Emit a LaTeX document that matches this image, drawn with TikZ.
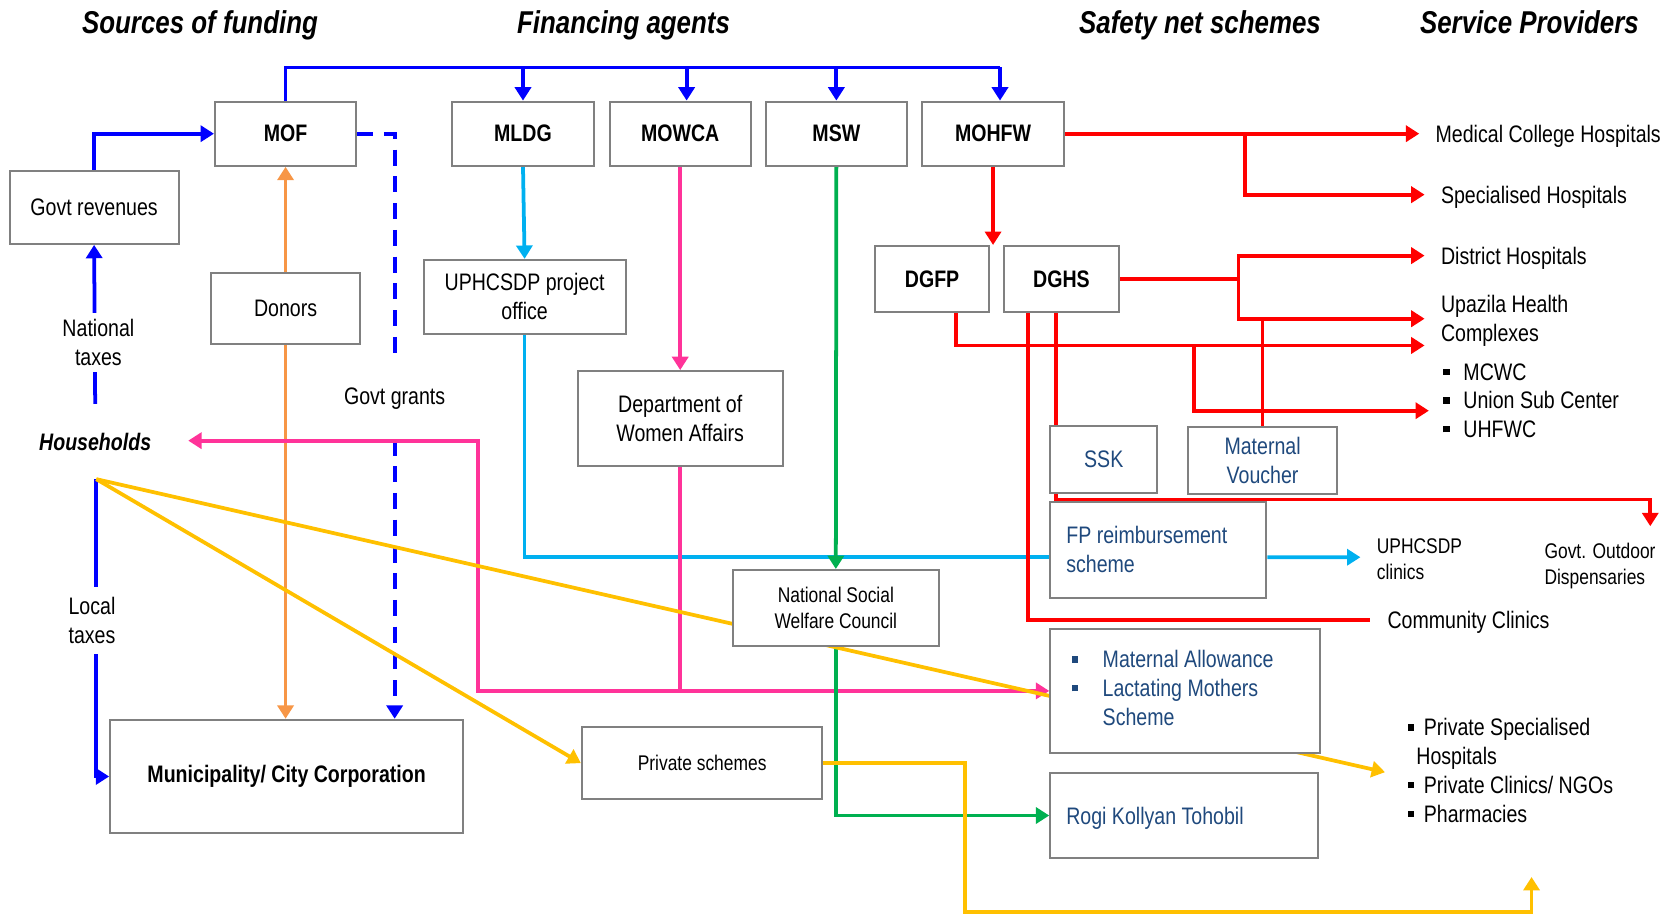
\documentclass[tikz,border=0pt]{standalone}
\usepackage{fontspec}
\setmainfont{Liberation Sans}[FakeStretch=0.82]
\usetikzlibrary{arrows.meta,backgrounds}

\definecolor{boxgray}{RGB}{128,128,128}
\definecolor{schemeblue}{RGB}{31,73,125}
\definecolor{fblue}{RGB}{0,0,255}
\definecolor{forange}{RGB}{247,150,70}
\definecolor{fcyan}{RGB}{0,176,240}
\definecolor{fpink}{RGB}{255,51,153}
\definecolor{fgreen}{RGB}{0,176,80}
\definecolor{fyellow}{RGB}{255,192,0}
\definecolor{fred}{RGB}{255,0,0}

\newcommand{\bodytxt}{\fontsize{12.7}{15.3}\selectfont}
\newcommand{\smalltxt}{\fontsize{11.3}{13.6}\selectfont}
\newcommand{\headtxt}{\fontsize{16.8}{20}\selectfont\bfseries\itshape}
\newcommand{\sqb}{\rule[0.22em]{3.4pt}{3.4pt}}
\newcommand{\natsp}{\spaceskip=0pt\xspaceskip=0pt\relax}

\begin{document}
\begin{tikzpicture}[x=0.02cm, y=-0.02cm, font=\bodytxt,
	box/.style={draw=boxgray, line width=1.1pt, fill=white, align=center, inner sep=0pt},
	sz/.style 2 args={minimum width=#1cm, minimum height=#2cm},
	agent/.style={font=\bodytxt\bfseries},
	scheme/.style={text=schemeblue},
	head/.style={font=\headtxt, anchor=base},
	prov/.style={anchor=west, inner xsep=0.3cm, align=left, text depth=0pt},
	conn/.style={line width=2pt},
	arr/.style={-{Triangle[length=0.25cm, width=0.3cm]}},
	gdash/.style={dash pattern=on 0.3cm off 0.2cm}]

	\useasboundingbox (0,0) rectangle (1568,856);

	% column headings
	\node[head] (hfund) at (187,31) {Sources of funding};
	\node[head] (hagent) at (583,31) {Financing agents};
	\node[head] (hsafety) at (1122,31) {Safety net schemes};
	\node[head] (hprov) at (1430,31) {Service Providers};

	% sources
	\node[box, sz={3.16}{1.36}] (govrev) at (88,194) {Govt revenues};
	\node[box, sz={2.64}{1.2}, agent] (mof) at (267,125) {MOF};
	\node[box, sz={2.8}{1.34}] (donors) at (267,288.5) {Donors};
	\node[font=\bodytxt\bfseries\itshape] (hh) at (89,413) {Households};
	\node[fill=white, align=center, inner sep=0.12cm] (ntax) at (92,320) {National\\taxes};
	\node[fill=white, align=center, inner ysep=0.2cm] (ltax) at (86,580) {Local\\taxes};
	\node[inner ysep=0.55cm] (ggr) at (369,373) {Govt grants};
	\node[box, sz={6.6}{2.12}, agent] (muni) at (268,726) {Municipality/ City Corporation};

	% ministries
	\node[box, sz={2.64}{1.2}, agent] (mldg) at (489,125) {MLDG};
	\node[box, sz={2.64}{1.2}, agent] (mowca) at (636,125) {MOWCA};
	\node[box, sz={2.64}{1.2}, agent] (msw) at (782,125) {MSW};
	\node[box, sz={2.66}{1.2}, agent] (mohfw) at (928.5,125) {MOHFW};
	\node[box, sz={3.78}{1.38}] (uphc) at (490.5,277.5) {UPHCSDP project\\office};
	\node[box, sz={3.84}{1.78}] (dwa) at (636,391.5) {Department of\\Women Affairs};
	\node[box, sz={2.14}{1.24}, agent] (dgfp) at (871.5,261) {DGFP};
	\node[box, sz={2.14}{1.24}, agent] (dghs) at (992.5,261) {DGHS};
	\node[box, sz={3.86}{1.42}, font=\smalltxt] (nswc) at (781.5,568.5) {National Social\\Welfare Council};
	\node[box, sz={4.5}{1.34}, font=\smalltxt] (privs) at (656.5,713.5) {Private schemes};

	% safety net schemes
	\node[box, sz={2.0}{1.26}, scheme] (ssk) at (1032,429.5) {SSK};
	\node[box, sz={2.78}{1.26}, scheme] (mv) at (1180.5,430.5) {Maternal\\Voucher};
	\node[box, sz={4.04}{1.8}, scheme, text width=3.44cm, inner xsep=0.3cm, align=left] (fprs) at (1083,514) {\natsp FP reimbursement\\scheme};
	\node[box, sz={5.04}{2.32}, scheme, text width=4.24cm, inner xsep=0.4cm, align=left] (mab) at (1108,646)
		{\natsp\begin{tabular}{@{}p{0.58cm}@{}l@{}} \sqb & Maternal Allowance\\ \sqb & Lactating Mothers\\ & Scheme\end{tabular}};
	\node[box, sz={5.0}{1.58}, scheme, text width=4.4cm, inner xsep=0.3cm, align=left, text depth=0pt] (rkt) at (1107,762.5) {\natsp Rogi Kollyan Tohobil};

	% providers
	\node[prov] (mch) at (1327,125) {Medical College Hospitals};
	\node[prov] (sph) at (1332,182) {Specialised Hospitals};
	\node[prov] (dh) at (1332,239) {District Hospitals};
	\node[prov] (uhc) at (1332,298) {Upazila Health\\Complexes};
	\node[anchor=west, inner sep=0pt] (hclist) at (1349,377)
		{\begin{tabular}{@{}p{0.38cm}@{}l@{}} \sqb & MCWC\\ \sqb & Union Sub Center\\ \sqb & UHFWC\end{tabular}};
	\node[anchor=west, inner sep=0pt, font=\smalltxt, align=left] (uphcc) at (1287,523) {UPHCSDP\\clinics};
	\node[font=\smalltxt, align=left] (god) at (1496,529) {Govt. Outdoor\\Dispensaries};
	\node[prov, inner xsep=0.32cm] (cc) at (1281,580) {Community Clinics};
	\node[anchor=west, inner sep=0pt] (pvlist) at (1316,723)
		{\begin{tabular}{@{}p{0.3cm}@{}l@{}} \sqb & Private Specialised\\ & \hspace{-0.14cm}Hospitals\\ \sqb & Private Clinics/ NGOs\\ \sqb & Pharmacies\end{tabular}};

	\coordinate (bus) at (266,63);
	\coordinate (hsrc) at (90,448);
	\coordinate (hhin) at (176,412);
	\coordinate (pkturn) at (447,412);
	\coordinate (uphcin) at (1272,521);
	\coordinate (fpup) at (1332,323);
	\coordinate (usc) at (1336,384);
	\coordinate (godin) at (1543,492);
	\coordinate (privin) at (1295,722);
	\coordinate (pvturn) at (902,853);
	\coordinate (privup) at (1432,820);

	\begin{pgfonlayer}{background}
		% government money
		\draw[conn, fblue, arr] (govrev.north) |- (mof.west);
		\draw[conn, fblue] (mof.north) |- ([xshift=0.13cm]mohfw.north |- bus);
		\draw[conn, fblue, arr] (mldg.north |- bus) -- (mldg.north);
		\draw[conn, fblue, arr] ([xshift=0.12cm]mowca.north |- bus) -- ([xshift=0.12cm]mowca.north);
		\draw[conn, fblue, arr] (msw.north |- bus) -- (msw.north);
		\draw[conn, fblue, arr] ([xshift=0.13cm]mohfw.north |- bus) -- ([xshift=0.13cm]mohfw.north);
		\draw[conn, fblue, gdash] (mof.east) -| (ggr.north);
		\draw[conn, fblue, gdash, arr] (ggr.south) -- (ggr.south |- muni.north);
		\draw[conn, fblue, arr] ([yshift=0.42cm]hh.north) -- (govrev.south);
		\draw[conn, fblue, arr] (hsrc) |- (muni.west);

		\draw[conn, forange, arr] (donors.north) -- (mof.south);
		\draw[conn, forange, arr] (donors.south) -- (donors.south |- muni.north);

		\draw[conn, fcyan, arr] (mldg.south) -- (uphc.north);
		\draw[conn, fcyan] (uphc.south) |- ([yshift=-0.14cm]fprs.west);
		\draw[conn, fcyan, arr] ([yshift=-0.14cm]fprs.east) -- (uphcin);

		\draw[conn, fpink, arr] (mowca.south) -- (dwa.north);
		\draw[conn, fpink, arr] (dwa.south) |- (mab.west);
		\draw[conn, fpink, arr] (dwa.south |- mab.west) -| (pkturn) -- (hhin);

		\draw[conn, fgreen, arr] (msw.south) -- (nswc.north);
		\draw[conn, fgreen, arr] (nswc.south) |- (rkt.west);

		% out of pocket
		\draw[conn, fyellow, arr] (hsrc) -- (privin);
		\draw[conn, fyellow, arr] (hsrc) -- (privs.west);
		\draw[conn, fyellow, arr] (privs.east) -| (pvturn) -| (privup);

		% health ministry
		\draw[conn, fred, arr] (mohfw.east) -- (mch.west);
		\draw[conn, fred, arr] ([xshift=3.36cm]mohfw.east) |- (sph.west);
		\draw[conn, fred, arr] (mohfw.south) -- (mohfw.south |- dgfp.north);
		\draw[conn, fred] (dghs.east) -- ++(111,0);
		\draw[conn, fred, arr] ([xshift=2.22cm]dghs.east) |- (dh.west);
		\draw[conn, fred, arr] ([xshift=2.22cm]dghs.east) |- (uhc.west);
		\draw[conn, fred] (mv.north) -- (mv.north |- uhc.west);
		\draw[conn, fred, arr] ([xshift=0.45cm]dgfp.south) |- (fpup);
		\draw[conn, fred, arr] ([xshift=-4.32cm]fpup) |- (usc);
		\draw[conn, fred] ([xshift=-0.63cm]dghs.south) |- (cc.west);
		\draw[conn, fred, arr] ([xshift=-0.11cm]dghs.south) -- ++(0,174) -| (godin);
	\end{pgfonlayer}

\end{tikzpicture}
\end{document}
